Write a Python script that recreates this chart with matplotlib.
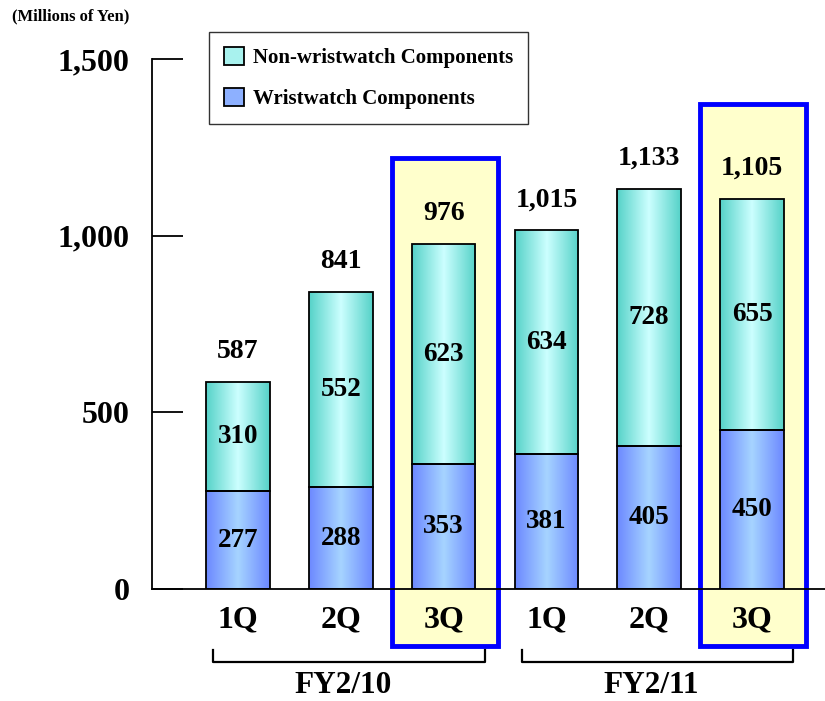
import numpy as np
import matplotlib.pyplot as plt
from matplotlib.patches import Rectangle, Patch
from matplotlib.colors import LinearSegmentedColormap

plt.rcParams['font.family'] = ['Liberation Serif', 'DejaVu Serif']
plt.rcParams['font.weight'] = 'bold'

# data (millions of yen)
quarters = ['1Q', '2Q', '3Q', '1Q', '2Q', '3Q']
years = ['FY2/10', 'FY2/11']
wristwatch = [277, 288, 353, 381, 405, 450]
non_wristwatch = [310, 552, 623, 634, 728, 655]
totals = ['587', '841', '976', '1,015', '1,133', '1,105']
highlight = [2, 5]
highlight_top = [1220, 1373]

x = np.arange(len(quarters))
w = 0.62

fig = plt.figure(figsize=(8.25, 7.01), dpi=100)
ax = fig.add_axes([152 / 825, (701 - 589) / 701, 673 / 825, 530 / 701])

# yellow highlight boxes for the current quarter
for i, top in zip(highlight, highlight_top):
    ax.add_patch(Rectangle((i - 0.505, -161), 1.03, top + 161, facecolor='#FFFFCC',
                           edgecolor='#0000FF', linewidth=3.5, clip_on=False, zorder=0))

cyan = LinearSegmentedColormap.from_list('c', ['#55D2C8', '#CCFFFF', '#55D2C8'])
blue = LinearSegmentedColormap.from_list('b', ['#6C88FF', '#A6D4FF', '#6C88FF'])
grad = np.linspace(0, 1, 256).reshape(1, -1)

b1 = ax.bar(x, wristwatch, w, color='none', edgecolor='black', linewidth=1.3, zorder=3)
b2 = ax.bar(x, non_wristwatch, w, bottom=wristwatch, color='none', edgecolor='black',
            linewidth=1.3, zorder=3)
for bars, cmap in [(b1, blue), (b2, cyan)]:
    for r in bars:
        x0, y0 = r.get_x(), r.get_y()
        im = ax.imshow(grad, cmap=cmap, aspect='auto', zorder=2,
                       extent=(x0, x0 + r.get_width(), y0, y0 + r.get_height()))
        im.set_clip_path(r)
ax.set_xlim(-0.837, 5.71)
ax.set_ylim(0, 1500)

for i in x:
    ax.text(i, wristwatch[i] / 2, str(wristwatch[i]), ha='center', va='center',
            fontsize=19.5, zorder=4)
    ax.text(i, wristwatch[i] + non_wristwatch[i] / 2, str(non_wristwatch[i]),
            ha='center', va='center', fontsize=19.5, zorder=4)
    ax.annotate(totals[i], (i, wristwatch[i] + non_wristwatch[i]), xytext=(0, 13),
                textcoords='offset points', ha='center', va='bottom', fontsize=20)

for s in ['top', 'right']:
    ax.spines[s].set_visible(False)
ax.spines['left'].set_linewidth(1.3)
ax.spines['bottom'].set_linewidth(1.3)
ax.set_yticks([0, 500, 1000, 1500])
ax.set_yticklabels(['0', '500', '1,000', '1,500'], fontsize=23)
ax.tick_params(axis='y', direction='in', length=22, width=1.3, pad=16)
ax.set_xticks(x)
ax.set_xticklabels(quarters, fontsize=23)
ax.tick_params(axis='x', length=0, pad=12)

# fiscal year brackets
for k, yr in enumerate(years):
    a, b = 3 * k - 0.24, 3 * k + 2.4
    ax.plot([a, a, b, b], [-173, -206, -206, -173], color='black', lw=1.6, clip_on=False)
    ax.text((a + b) / 2 - 0.06, -272, yr, ha='center', va='center', fontsize=22.5)

fig.text(12 / 825, 1 - 16 / 701, '(Millions of Yen)', fontsize=12, va='center')

handles = [Patch(facecolor='#A8F2EE', edgecolor='black', linewidth=1.3),
           Patch(facecolor='#8DB0FF', edgecolor='black', linewidth=1.3)]
fig.legend(handles, ['Non-wristwatch Components', 'Wristwatch Components'],
           loc='upper left', bbox_to_anchor=(209 / 825, 1 - 32 / 701), fontsize=15,
           frameon=True, fancybox=False, edgecolor='black', handlelength=1.0,
           handleheight=1.0, handletextpad=0.4, labelspacing=0.95, borderpad=0.7,
           borderaxespad=0)

fig.savefig('out.png', dpi=100)
